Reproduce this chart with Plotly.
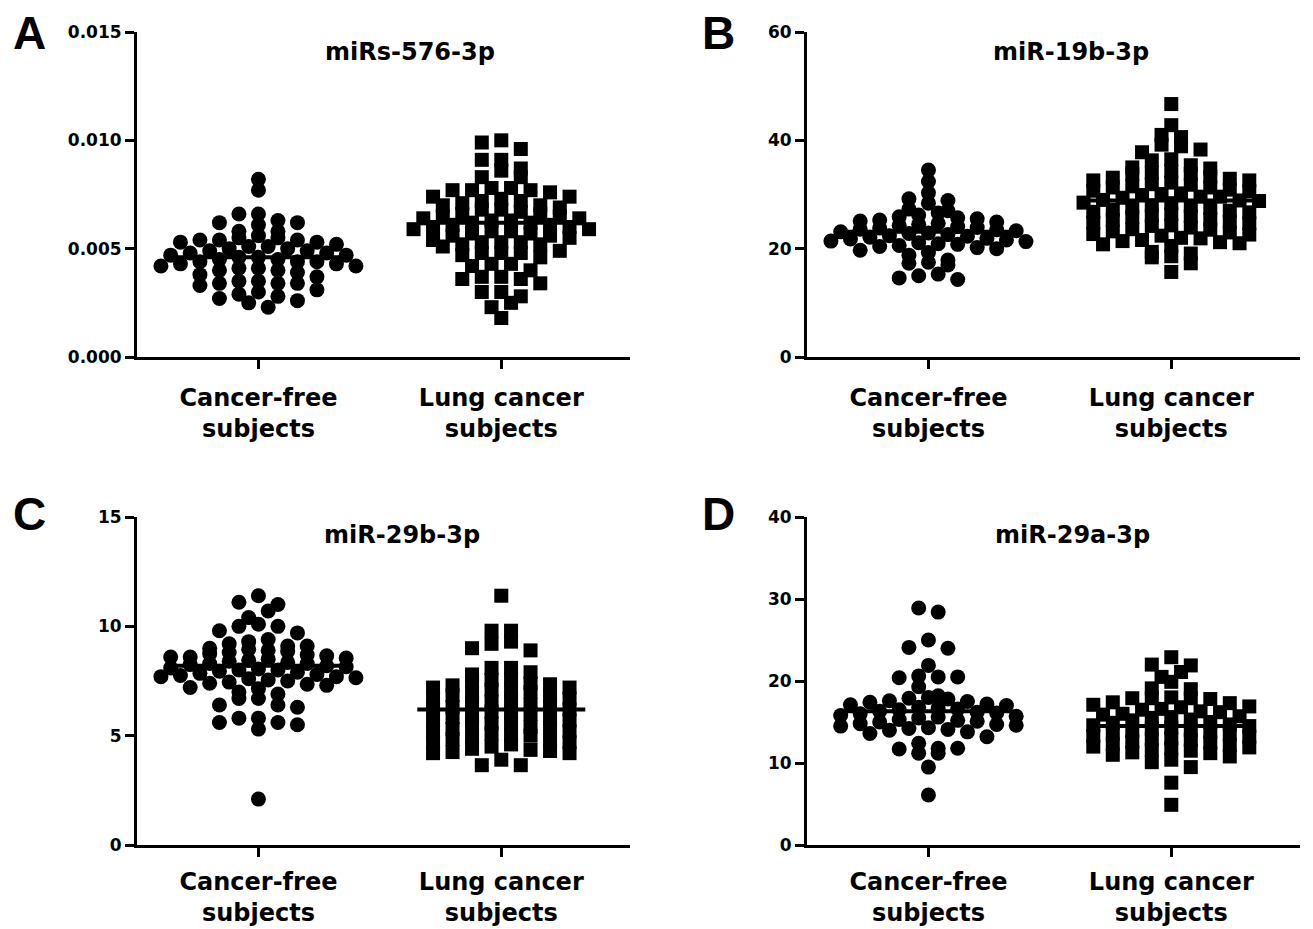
import numpy as np
import plotly.graph_objects as go

# ---------------- data ----------------
groups = ["Cancer-free<br>subjects", "Lung cancer<br>subjects"]
titles = ["miRs-576-3p", "miR-19b-3p", "miR-29b-3p", "miR-29a-3p"]
letters = ["A", "B", "C", "D"]

A_free = [0.0082, 0.0077, 0.0066, 0.0066, 0.0063, 0.0062, 0.0062, 0.0061, 0.0058, 0.0058,
          0.0056, 0.0055, 0.0055, 0.0054, 0.0054, 0.0054, 0.0053, 0.0053, 0.0052, 0.0051,
          0.0051, 0.0050, 0.0050, 0.0049, 0.0049, 0.0048, 0.0048, 0.0047, 0.0047, 0.0046,
          0.0046, 0.0045, 0.0045, 0.0044, 0.0044, 0.0044, 0.0043, 0.0043, 0.0042, 0.0042,
          0.0041, 0.0041, 0.0040, 0.0040, 0.0039, 0.0038, 0.0037, 0.0035, 0.0035, 0.0034,
          0.0034, 0.0034, 0.0033, 0.0031, 0.0030, 0.0029, 0.0028, 0.0027, 0.0026, 0.0025, 0.0023]
A_lung = [0.0100, 0.0099, 0.0096, 0.0091, 0.0091, 0.0087, 0.0086, 0.0083, 0.0083, 0.0078,
          0.0078, 0.0077, 0.0077, 0.0077, 0.0076, 0.0074, 0.0074, 0.0073, 0.0072, 0.0072,
          0.0071, 0.0070, 0.0070, 0.0069, 0.0068, 0.0068, 0.0067, 0.0066, 0.0066, 0.0065,
          0.0065, 0.0064, 0.0064, 0.0063, 0.0063, 0.0062, 0.0062, 0.0061, 0.0061, 0.0060,
          0.0060, 0.0059, 0.0059, 0.0058, 0.0058, 0.0057, 0.0057, 0.0056, 0.0056, 0.0055,
          0.0054, 0.0053, 0.0053, 0.0053, 0.0052, 0.0052, 0.0051, 0.0049, 0.0048, 0.0048,
          0.0048, 0.0047, 0.0046, 0.0043, 0.0043, 0.0042, 0.0040, 0.0037, 0.0037, 0.0036,
          0.0036, 0.0034, 0.0030, 0.0030, 0.0028, 0.0025, 0.0023, 0.0018]

B_free = [34.5, 32.4, 30.3, 29.2, 28.9, 28.4, 27.3, 27.0, 26.6, 26.2,
          25.9, 25.7, 25.5, 25.3, 25.1, 24.9, 24.7, 24.5, 24.3, 24.1,
          23.9, 23.8, 23.6, 23.5, 23.3, 23.1, 22.9, 22.8, 22.6, 22.4,
          22.3, 22.1, 21.9, 21.8, 21.6, 21.4, 21.3, 21.1, 20.9, 20.8,
          20.6, 20.4, 20.2, 20.0, 19.7, 19.3, 18.8, 17.9, 17.5, 17.3,
          17.0, 15.3, 15.0, 14.6, 14.3]
B_lung = [46.7, 42.8, 41.0, 40.6, 39.2, 38.9, 38.3, 37.8, 36.5, 36.3, 35.4, 35.0, 34.8,
          34.3, 34.0, 33.8, 33.8, 33.3, 33.1, 32.9, 32.6, 32.6, 32.2, 31.9, 31.8, 31.5,
          31.3, 31.3, 30.9, 30.7, 30.6, 30.2, 30.1, 29.9, 29.6, 29.6, 29.4, 29.0, 28.9,
          28.8, 28.5, 28.4, 28.0, 27.9, 27.6, 27.5, 27.2, 27.0, 26.8, 26.7, 26.4, 26.1,
          26.0, 25.8, 25.4, 25.3, 25.0, 24.8, 24.7, 24.3, 24.2, 23.9, 23.6, 23.5, 23.2,
          23.0, 22.7, 22.6, 22.4, 22.0, 21.9, 21.6, 21.4, 21.2, 21.0, 20.8, 20.5,
          19.4, 19.1, 18.6, 18.4, 17.3, 15.7]

C_free = [11.4, 11.1, 11.0, 10.7, 10.4, 10.1, 10.0, 10.0, 9.8, 9.7, 9.4, 9.3, 9.2, 9.1, 9.1, 9.0,
          8.95, 8.9, 8.85, 8.8, 8.75, 8.7, 8.65, 8.6, 8.6, 8.55, 8.5, 8.45, 8.4, 8.35, 8.3, 8.3,
          8.25, 8.2, 8.15, 8.1, 8.05, 8.0, 8.0, 7.95, 7.9, 7.85, 7.8, 7.75, 7.7, 7.7, 7.65, 7.6,
          7.55, 7.5, 7.45, 7.4, 7.35, 7.3, 7.2, 7.15,
          7.0, 6.9, 6.7, 6.7, 6.4, 6.4, 6.3, 5.8, 5.8, 5.6, 5.6, 5.5, 5.3, 2.1]
C_lung = [11.4, 9.8, 9.8, 9.3, 9.2, 9.0, 8.9, 8.1, 8.1, 7.9, 7.8,
          7.6, 7.55, 7.5, 7.4, 7.35, 7.3, 7.2, 7.2, 7.1, 7.05, 7.0, 6.9, 6.85, 6.8, 6.7, 6.7,
          6.6, 6.55, 6.5, 6.4, 6.35, 6.3, 6.25, 6.2, 6.1, 6.05, 6.0, 5.9, 5.85, 5.8, 5.7, 5.7,
          5.6, 5.55, 5.5, 5.4, 5.35, 5.3, 5.2, 5.2, 5.1, 5.05, 5.0, 4.9, 4.85, 4.8, 4.7, 4.7,
          4.6, 4.5, 4.4, 4.35, 4.3, 4.25, 4.2, 4.2,
          3.9, 3.65, 3.65]

D_free = [28.9, 28.4, 25.0, 24.1, 24.0, 21.9, 20.6, 20.5, 20.5, 20.4, 19.3,
          18.2, 18.0, 17.9, 17.8, 17.6, 17.5, 17.4, 17.2, 17.1, 17.0, 16.8, 16.7, 16.6, 16.5,
          16.3, 16.2, 16.1, 16.0, 15.8, 15.7, 15.6, 15.5, 15.3, 15.2, 15.1, 15.0, 14.8, 14.7,
          14.6, 14.5, 14.3, 14.2, 14.1, 14.0, 13.8, 13.6,
          13.2, 12.4, 11.8, 11.8, 11.7, 11.2, 11.2, 9.5, 6.1]
D_lung = [22.9, 22.0, 21.9, 21.1, 20.5, 19.9, 19.1, 19.0, 18.0, 17.9, 17.9, 17.8, 17.9,
          17.4, 17.3, 17.1, 16.9, 16.8, 16.6, 16.5, 16.3, 16.2, 16.0, 15.9, 15.7, 15.6, 15.5,
          15.3, 15.2, 15.0, 14.9, 14.7, 14.6, 14.5, 14.3, 14.2, 14.0, 13.9, 13.8, 13.6, 13.5,
          13.3, 13.2, 13.0, 12.9, 12.8, 12.6, 12.5, 12.3, 12.2, 12.0, 11.9, 11.8, 11.6, 11.5,
          11.3, 11.2, 11.0, 10.8, 10.4, 10.1, 9.5, 7.6, 4.9]

means_A = [0.0046, 0.0062]
means_B = [23.1, 28.9]
means_C = [8.2, 6.2]
means_D = [16.3, 14.5]

y_max = [0.015, 60, 15, 40]
y_dtick = [0.005, 20, 5, 10]
y_fmt = [".3f", "d", "d", "d"]

panels = [(A_free, A_lung, means_A), (B_free, B_lung, means_B),
          (C_free, C_lung, means_C), (D_free, D_lung, means_D)]

# ---------------- layout geometry ----------------
W, H = 1313, 929
OFF = 8  # page offset of the plot div
x_px = [(137, 630), (807, 1300), (137, 630), (807, 1300)]
y_px = [(32, 357), (32, 357), (517, 845), (517, 845)]
X_RANGE = [-0.5, 1.53]
FONT = "DejaVu Sans, Arial, sans-serif"
label_standoff = [8, 8, 4, 4]


def swarm(vals, center, ppu_y, ppu_x, row_px=9.5, step_px=19.5):
    """Group values into horizontal rows (greedy, top-down) and spread each row."""
    v = np.asarray(vals, dtype=float)
    ypx = v * ppu_y
    order = np.argsort(-v, kind="stable")
    rows, cur, start = [], [], None
    for i in order:
        if cur and start - ypx[i] > row_px:
            rows.append(cur)
            cur = []
        if not cur:
            start = ypx[i]
        cur.append(i)
    if cur:
        rows.append(cur)
    xs = np.zeros(len(v))
    for r, row in enumerate(rows):
        n = len(row)
        offs = (np.arange(n) - (n - 1) / 2.0) * step_px
        slot = np.argsort(np.abs(offs) + 1e-6 * ((np.arange(n) + r) % 2), kind="stable")
        for j, idx in enumerate(row):
            xs[idx] = center + offs[slot[j]] / ppu_x
    return xs


fig = go.Figure()
for k, (free, lung, means) in enumerate(panels):
    sfx = "" if k == 0 else str(k + 1)
    xa, ya = "x" + sfx, "y" + sfx
    x0, x1 = x_px[k][0] - OFF, x_px[k][1] - OFF
    yt, yb = y_px[k][0] - OFF, y_px[k][1] - OFF
    ppu_x = (x1 - x0) / (X_RANGE[1] - X_RANGE[0])
    ppu_y = (yb - yt) / y_max[k]
    for g, (vals, sym, sz) in enumerate([(free, "circle", 15), (lung, "square", 14)]):
        xs = swarm(vals, g, ppu_y, ppu_x)
        fig.add_trace(go.Scatter(x=xs, y=vals, mode="markers", xaxis=xa, yaxis=ya,
                                 marker=dict(symbol=sym, size=sz, color="black",
                                             line=dict(width=0)),
                                 showlegend=False, hoverinfo="y"))
        half = 84 / ppu_x
        fig.add_trace(go.Scatter(x=[g - half, g + half], y=[means[g], means[g]],
                                 mode="lines", xaxis=xa, yaxis=ya,
                                 line=dict(color="black", width=4),
                                 showlegend=False, hoverinfo="skip"))
    ax = dict(domain=[x0 / W, x1 / W], range=X_RANGE, showline=True, linewidth=3,
              linecolor="black", ticks="outside", ticklen=9, tickwidth=3, tickcolor="black",
              tickvals=[0, 1], ticktext=groups, showgrid=False, zeroline=False,
              anchor=ya, fixedrange=True, automargin=False,
              ticklabelstandoff=label_standoff[k],
              tickfont=dict(family=FONT, size=24, color="black", weight="bold"))
    ay = dict(domain=[1 - yb / H, 1 - yt / H], range=[0, y_max[k]], showline=True,
              linewidth=3, linecolor="black", ticks="outside", ticklen=9, tickwidth=3,
              tickcolor="black", dtick=y_dtick[k], tick0=0, tickformat=y_fmt[k],
              showgrid=False, zeroline=False, anchor=xa, fixedrange=True, automargin=False,
              tickfont=dict(family=FONT, size=17, color="black", weight="bold"))
    fig.layout["xaxis" + sfx] = ax
    fig.layout["yaxis" + sfx] = ay

title_pos = [(410, 52), (1071, 52), (402, 535), (1072, 535)]
letter_pos = [(29, 33), (718, 33), (29, 514), (719, 514)]
for k in range(4):
    tx, ty = title_pos[k][0] - OFF, title_pos[k][1] - OFF
    fig.add_annotation(x=tx / W, y=1 - ty / H, xref="paper", yref="paper", text=titles[k],
                       showarrow=False, xanchor="center", yanchor="middle",
                       font=dict(family=FONT, size=24, color="black", weight="bold"))
    lx, ly = letter_pos[k][0] - OFF, letter_pos[k][1] - OFF
    fig.add_annotation(x=lx / W, y=1 - ly / H, xref="paper", yref="paper", text=letters[k],
                       showarrow=False, xanchor="center", yanchor="middle",
                       font=dict(family="Liberation Sans, Arial, sans-serif", size=46,
                                 color="black", weight="bold"))

fig.update_layout(width=W, height=H, margin=dict(l=0, r=0, t=0, b=0, pad=0),
                  paper_bgcolor="white", plot_bgcolor="white", showlegend=False)
fig.write_html("out.html")
